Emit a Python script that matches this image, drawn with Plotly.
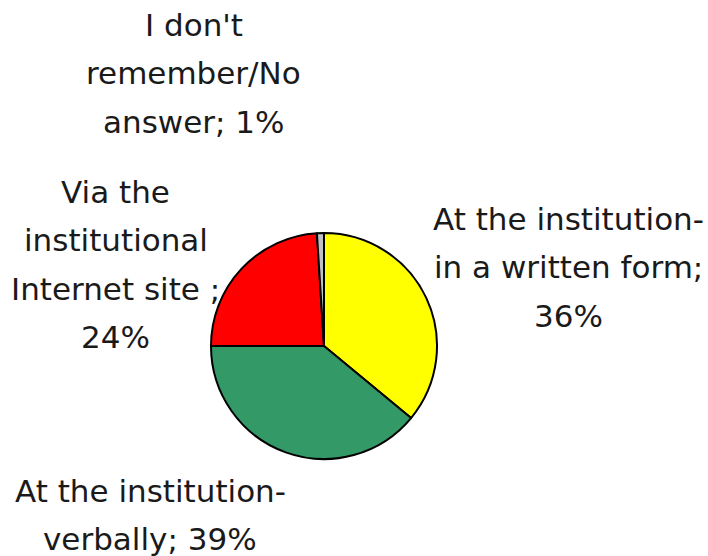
import plotly.graph_objects as go

# Data
categories = ["At the institution-in a written form", "At the institution-verbally",
              "Via the institutional Internet site", "I don't remember/No answer"]
values = [36, 39, 24, 1]
colors = ["#FFFF00", "#339966", "#FF0000", "#C0C0C0"]

# label text lines (as shown on the chart)
label_lines = [
    ["At the institution-", "in a written form;", "36%"],
    ["At the institution-", "verbally; 39%"],
    ["Via the", "institutional", "Internet site ;", "24%"],
    ["I don't", "remember/No", "answer; 1%"],
]
# label block positions in pixels: (center x, first baseline y)
label_pos = [(568, 230), (150, 502), (116, 203), (194, 36)]

W, H = 708, 556
FS = 31
LINE = 48.5

cx, cy, r = 324, 346, 113

fig = go.Figure(go.Pie(
    labels=categories,
    values=values,
    sort=False,
    direction="clockwise",
    rotation=0,
    marker=dict(colors=colors, line=dict(color="#000000", width=2)),
    textinfo="none",
    hoverinfo="label+percent",
    domain=dict(x=[(cx - r) / W, (cx + r) / W], y=[(H - cy - r) / H, (H - cy + r) / H]),
    showlegend=False,
))

annotations = []
for lines, (lx, ly) in zip(label_lines, label_pos):
    for i, t in enumerate(lines):
        base = ly + i * LINE
        mid = base - 0.36 * FS
        annotations.append(dict(
            text=t, x=lx / W, y=1 - mid / H, xref="paper", yref="paper",
            xanchor="center", yanchor="middle", showarrow=False,
            font=dict(family="DejaVu Sans", size=FS, color="#1a1a1a"),
        ))

fig.update_layout(
    width=W, height=H,
    margin=dict(l=0, r=0, t=0, b=0),
    paper_bgcolor="white", plot_bgcolor="white",
    annotations=annotations,
)

fig.write_html("out.html", config={"displayModeBar": False},
               post_script="document.body.style.margin='0';document.body.style.overflow='hidden';")
